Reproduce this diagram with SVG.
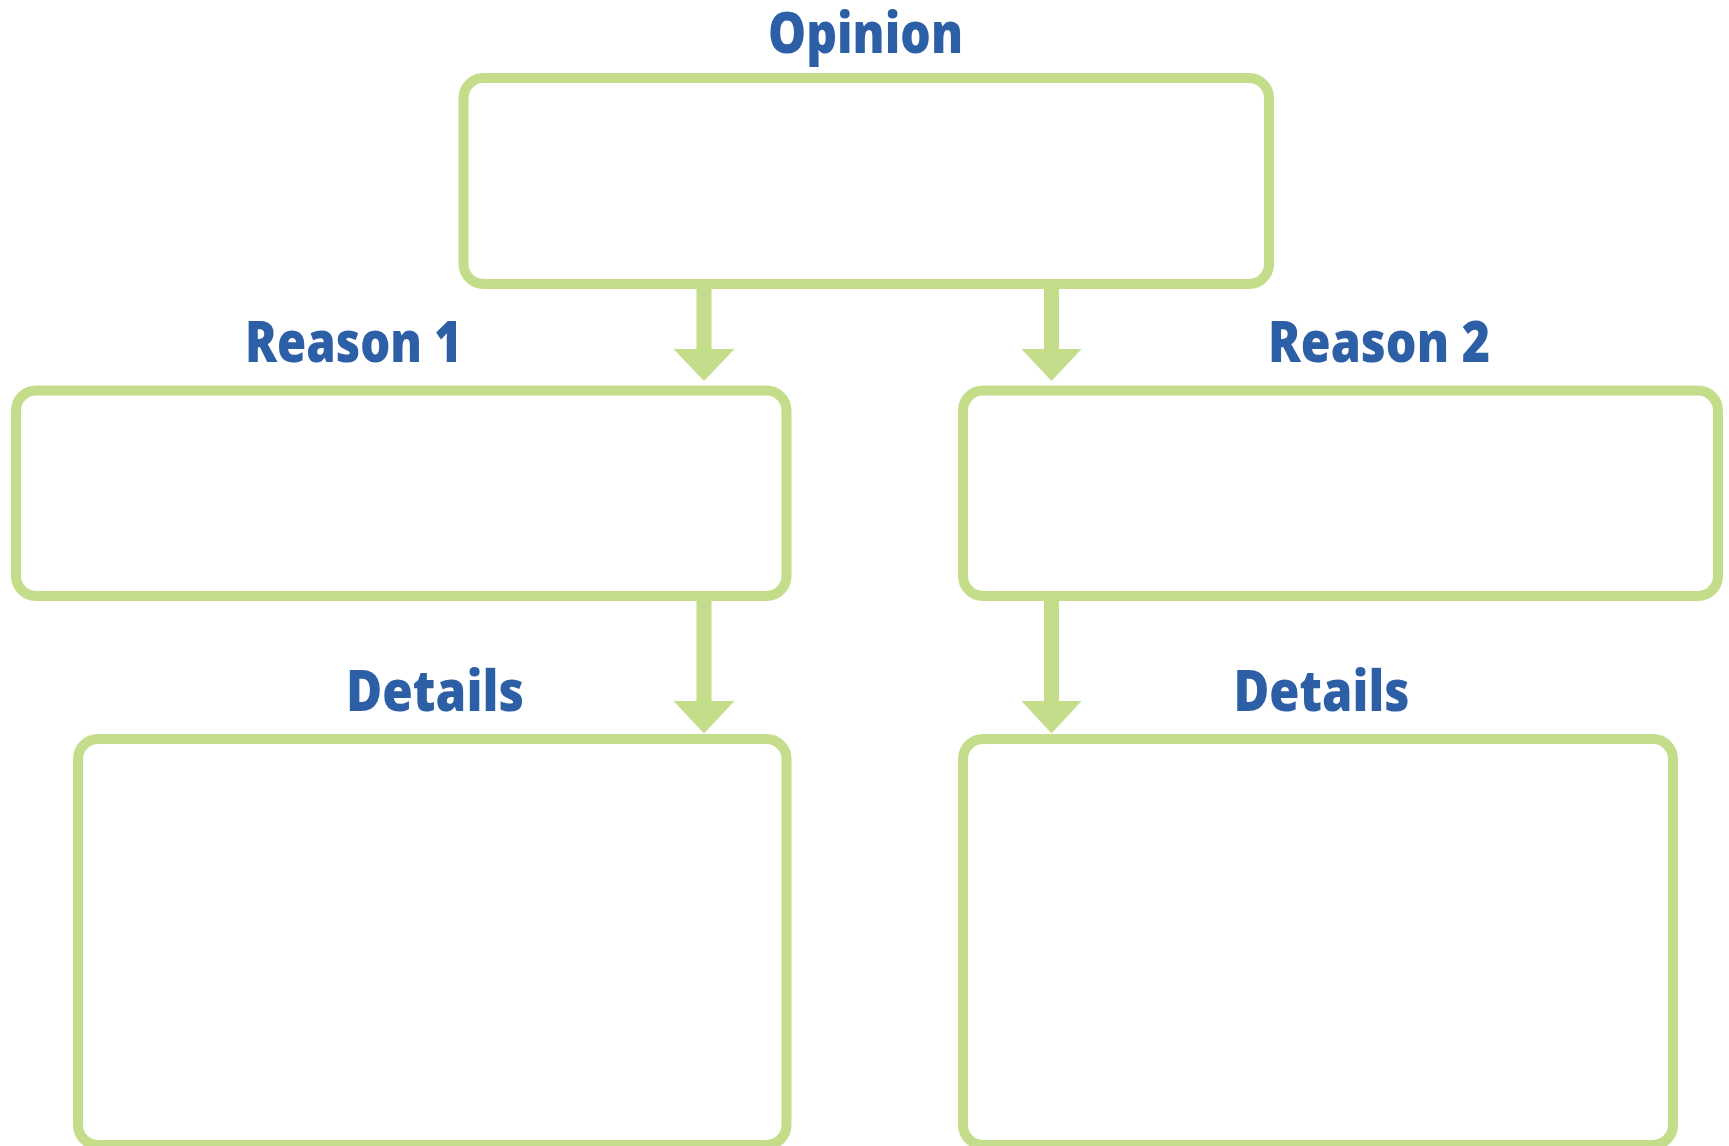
<svg xmlns="http://www.w3.org/2000/svg" width="1729" height="1146" viewBox="0 0 1729 1146">
<style>
.box{fill:#ffffff;stroke:#c3dd8a;stroke-width:10}
.lbl{fill:#2d5fa6;font-family:"Open Sans","Lato","Liberation Sans",sans-serif;font-weight:800;font-size:57px;text-anchor:middle}
.arr{fill:#c3dd8a}
</style>
<rect width="1729" height="1146" fill="#ffffff"/>
<g id="connectors">
<path class="arr" d="M696.5 289 V349 H673.5 L704 381 L734.5 349 H711.5 V289 Z"/>
<path class="arr" d="M1044 289 V349 H1021.5 L1051.5 381 L1081.5 349 H1059 V289 Z"/>
<path class="arr" d="M696.5 601 V701 H673.5 L704 733.5 L734.5 701 H711.5 V601 Z"/>
<path class="arr" d="M1044 601 V701 H1021.5 L1051.5 733.5 L1081.5 701 H1059 V601 Z"/>
</g>
<g id="opinion">
<rect class="box" x="463.5" y="78" width="805.5" height="206" rx="20"/>
<text class="lbl" x="865.5" y="53" textLength="195" lengthAdjust="spacingAndGlyphs">Opinion</text>
</g>
<g id="reason1">
<rect class="box" x="16" y="390.5" width="770.5" height="205.5" rx="20"/>
<text class="lbl" x="353.5" y="362" textLength="217" lengthAdjust="spacingAndGlyphs">Reason 1</text>
</g>
<g id="reason2">
<rect class="box" x="963" y="390.5" width="755" height="205.5" rx="20"/>
<text class="lbl" x="1379" y="362" textLength="222" lengthAdjust="spacingAndGlyphs">Reason 2</text>
</g>
<g id="details1">
<rect class="box" x="78" y="739" width="708.5" height="406" rx="20"/>
<text class="lbl" x="435" y="711" textLength="178" lengthAdjust="spacingAndGlyphs">Details</text>
</g>
<g id="details2">
<rect class="box" x="963" y="739" width="710" height="406" rx="20"/>
<text class="lbl" x="1321.5" y="711" textLength="176" lengthAdjust="spacingAndGlyphs">Details</text>
</g>
</svg>
